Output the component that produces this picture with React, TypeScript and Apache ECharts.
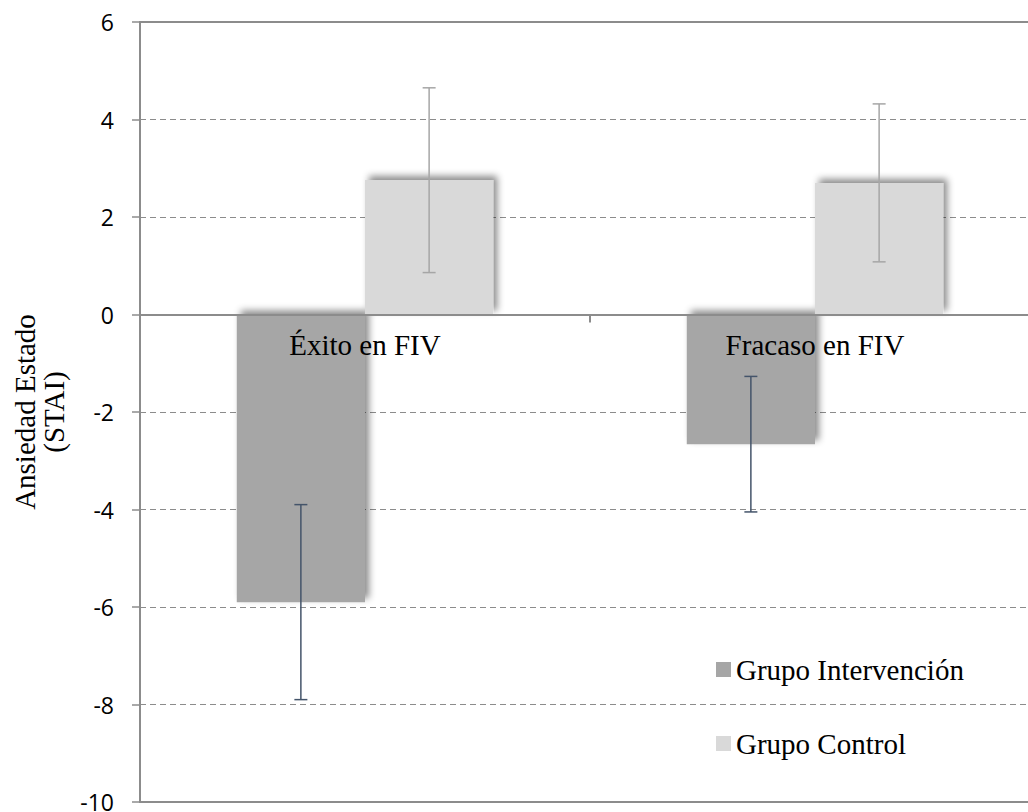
import React, { useEffect, useRef } from "react";
import * as echarts from "echarts";

const categories = ["Éxito en FIV", "Fracaso en FIV"];
const seriesNames = ["Grupo Intervención", "Grupo Control"];
const intervencion = [-5.9, -2.66];
const control = [2.76, 2.7];
const intervencionLow = [-7.9, -4.05];
const intervencionHigh = [-3.9, -1.27];
const controlLow = [0.86, 1.08];
const controlHigh = [4.65, 4.32];
const yTicks = { min: -10, max: 6, interval: 2 };

export default function App() {
  const ref = useRef<HTMLDivElement>(null);
  useEffect(() => {
    document.body.style.margin = "0";
    const chart = echarts.init(ref.current!, undefined, { renderer: "svg" });
    const barFrac = 0.285;
    const gridTop = 22;
    const gridHeight = 780;
    const zeroOffset = -(gridHeight * (0 - yTicks.min)) / (yTicks.max - yTicks.min);
    const makeErr = (low: number[], high: number[], side: number, color: string, name: string) => ({
      type: "custom",
      name,
      z: 5,
      data: low.map((l, i) => [i, l, high[i]]),
      renderItem: (params: any, api: any) => {
        const idx = api.value(0);
        const catW = api.size([1, 0])[0];
        const bw = catW * barFrac;
        const off = (side * bw) / 2;
        const pLow = api.coord([idx, api.value(1)]);
        const pHigh = api.coord([idx, api.value(2)]);
        const x = pLow[0] + off;
        const cap = 6.5;
        const style = { stroke: color, lineWidth: 1.5 };
        return {
          type: "group",
          children: [
            { type: "line", shape: { x1: x, y1: pLow[1], x2: x, y2: pHigh[1] }, style },
            { type: "line", shape: { x1: x - cap, y1: pLow[1], x2: x + cap, y2: pLow[1] }, style },
            { type: "line", shape: { x1: x - cap, y1: pHigh[1], x2: x + cap, y2: pHigh[1] }, style },
          ],
        };
      },
    });
    const shadow = { shadowBlur: 7, shadowColor: "rgba(0,0,0,0.45)", shadowOffsetX: 4, shadowOffsetY: -4 };
    chart.setOption({
      animation: false,
      backgroundColor: "#ffffff",
      grid: {
        left: 140,
        top: gridTop,
        width: 900,
        height: gridHeight,
        show: true,
        borderColor: "#8c8c8c",
        borderWidth: 2,
        containLabel: false,
        outerBoundsMode: "none",
      },
      legend: {
        data: seriesNames,
        orient: "vertical",
        left: 711,
        top: 650,
        itemWidth: 15,
        itemHeight: 15,
        itemGap: 45,
        icon: "rect",
        textStyle: { fontFamily: "Liberation Serif", fontSize: 29, color: "#000" },
      },
      xAxis: {
        type: "category",
        position: "bottom",
        offset: zeroOffset,
        data: categories,
        axisLine: { onZero: false, lineStyle: { color: "#8c8c8c", width: 2 } },
        axisTick: { show: true, length: 8, lineStyle: { color: "#8c8c8c", width: 2 } },
        axisLabel: {
          margin: 16,
          fontFamily: "Liberation Serif",
          fontSize: 29,
          color: "#000",
        },
        z: 10,
      },
      yAxis: {
        type: "value",
        min: yTicks.min,
        max: yTicks.max,
        interval: yTicks.interval,
        axisLine: { show: true, lineStyle: { color: "#8c8c8c", width: 2 } },
        axisTick: { show: true, length: 8, lineStyle: { color: "#8c8c8c", width: 1.5 } },
        axisLabel: { margin: 26, fontFamily: "Open Sans", fontSize: 23, color: "#000" },
        splitLine: { show: true, lineStyle: { color: "#8c8c8c", type: [6, 4], width: 1.2 } },
      },
      graphic: [
        {
          type: "text",
          x: 39,
          y: gridTop + gridHeight / 2,
          rotation: Math.PI / 2,
          style: {
            text: "Ansiedad Estado\n(STAI)",
            fontFamily: "Liberation Serif",
            fontSize: 29,
            fill: "#000",
            align: "center",
            verticalAlign: "middle",
            lineHeight: 29,
          },
        },
      ],
      series: [
        {
          name: seriesNames[0],
          type: "bar",
          data: intervencion,
          barWidth: barFrac * 100 + "%",
          barGap: "0%",
          itemStyle: { color: "#a6a6a6", ...shadow },
          z: 2,
        },
        {
          name: seriesNames[1],
          type: "bar",
          data: control,
          barWidth: barFrac * 100 + "%",
          barGap: "0%",
          itemStyle: { color: "#d9d9d9", ...shadow },
          z: 2,
        },
        makeErr(intervencionLow, intervencionHigh, -1, "#44546a", "errI"),
        makeErr(controlLow, controlHigh, 1, "#a6a6a6", "errC"),
      ],
    });
    return () => chart.dispose();
  }, []);
  return <div ref={ref} style={{ width: 1028, height: 812 }} />;
}
